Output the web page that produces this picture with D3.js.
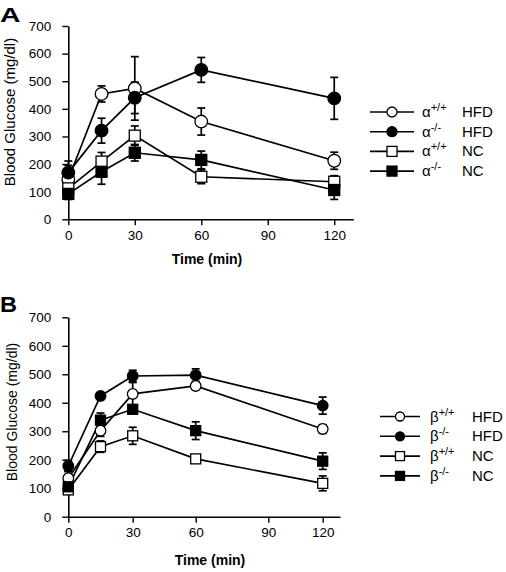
<!DOCTYPE html>
<html>
<head>
<meta charset="utf-8">
<script src="https://cdn.jsdelivr.net/npm/d3@7"></script>
<style>
  html, body { margin: 0; padding: 0; background: #fff; }
  svg { display: block; }
  text { font-family: "Liberation Sans", Arial, sans-serif; fill: #000; }
</style>
</head>
<body>
<svg id="chart" width="506" height="572"></svg>
<script>
// ---------- data ----------
const times = [0, 15, 30, 60, 120];
const xTicks = [0, 30, 60, 90, 120];
const yTicks = [0, 100, 200, 300, 400, 500, 600, 700];

// Panel A (alpha)
const aWtHFD = [145, 454, 474, 354, 212];
const aWtHFDErr = [50, 29, 115, 49, 31];
const aKoHFD = [169, 321, 440, 541, 438];
const aKoHFDErr = [42, 45, 57, 45, 76];
const aWtNC = [112, 209, 303, 154, 136];
const aWtNCErr = [20, 33, 35, 25, 22];
const aKoNC = [92, 172, 241, 215, 106];
const aKoNCErr = [20, 45, 30, 32, 34];

// Panel B (beta)
const bWtHFD = [135, 302, 431, 459, 308];
const bWtHFDErr = [25, 20, 40, 10, 15];
const bKoHFD = [178, 424, 494, 497, 390];
const bKoHFDErr = [20, 10, 20, 22, 30];
const bWtNC = [94, 246, 284, 203, 117];
const bWtNCErr = [15, 20, 30, 8, 26];
const bKoNC = [105, 339, 377, 302, 195];
const bKoNCErr = [15, 25, 15, 31, 29];

const legendA = [
  { g: "α", sup: "+/+", diet: "HFD" },
  { g: "α", sup: "-/-", diet: "HFD" },
  { g: "α", sup: "+/+", diet: "NC" },
  { g: "α", sup: "-/-", diet: "NC" }
];
const legendB = [
  { g: "β", sup: "+/+", diet: "HFD" },
  { g: "β", sup: "-/-", diet: "HFD" },
  { g: "β", sup: "+/+", diet: "NC" },
  { g: "β", sup: "-/-", diet: "NC" }
];
// marker styles per series order: open circle, filled circle, open square, filled square
const markerStyles = [
  { shape: "circle", fill: "#fff" },
  { shape: "circle", fill: "#000" },
  { shape: "square", fill: "#fff" },
  { shape: "square", fill: "#000" }
];

const svg = d3.select("#chart");

function drawPanel(cfg) {
  const g = svg.append("g");
  const x = cfg.x, y = cfg.y;

  // axes
  const xAxis = d3.axisBottom(x).tickValues(xTicks).tickSize(6).tickSizeOuter(0).tickPadding(5);
  const yAxis = d3.axisLeft(y).tickValues(yTicks).tickSize(6).tickSizeOuter(0).tickPadding(11);
  const gx = g.append("g").attr("transform", `translate(0,${y(0)})`).call(xAxis);
  const gy = g.append("g").attr("transform", `translate(${x(0)},0)`).call(yAxis);
  [gx, gy].forEach(a => {
    a.selectAll("path.domain").attr("stroke", "#000").attr("stroke-width", 1.6);
    a.selectAll(".tick line").attr("stroke", "#000").attr("stroke-width", 1.4);
    a.selectAll(".tick text").attr("font-size", 13.5).attr("font-family", "Liberation Sans, Arial, sans-serif").attr("fill", "#000");
  });

  const series = cfg.series;
  const line = d3.line().x((d, i) => x(times[i])).y(d => y(d));

  // lines
  series.forEach(s => {
    g.append("path").attr("d", line(s.values)).attr("fill", "none")
      .attr("stroke", "#000").attr("stroke-width", 1.7);
  });
  // error bars
  series.forEach(s => {
    s.values.forEach((v, i) => {
      const cx = x(times[i]);
      const y1 = y(v + s.err[i]), y2 = y(v - s.err[i]);
      g.append("line").attr("x1", cx).attr("x2", cx).attr("y1", y1).attr("y2", y2)
        .attr("stroke", "#000").attr("stroke-width", 1.7);
      [y1, y2].forEach(yy => g.append("line").attr("x1", cx - 4).attr("x2", cx + 4)
        .attr("y1", yy).attr("y2", yy).attr("stroke", "#000").attr("stroke-width", 1.7));
    });
  });
  // markers (draw order specified)
  cfg.order.forEach(si => {
    const s = series[si];
    const st = markerStyles[si];
    s.values.forEach((v, i) => drawMarker(g, st, x(times[i]), y(v), cfg.r, cfg.sq));
  });

  // axis titles
  g.append("text").attr("transform", `translate(${cfg.yTitleX},${cfg.yTitleY}) rotate(-90)`)
    .attr("text-anchor", "middle").attr("font-size", cfg.yTitleSize).text("Blood Glucose (mg/dl)");
  g.append("text").attr("x", cfg.xTitleX).attr("y", cfg.xTitleY).attr("text-anchor", "middle")
    .attr("font-size", 14).attr("font-weight", "bold").text("Time (min)");

  // panel letter
  g.append("text").attr("transform", `translate(${cfg.letterX},${cfg.letterY}) scale(${cfg.letterSX},1)`)
    .attr("font-size", cfg.letterSize).attr("font-weight", "bold").text(cfg.letter);

  // legend
  cfg.legend.forEach((d, i) => {
    const ly = cfg.legY + i * cfg.legDy;
    g.append("line").attr("x1", cfg.legX1).attr("x2", cfg.legX2).attr("y1", ly).attr("y2", ly)
      .attr("stroke", "#000").attr("stroke-width", 1.6);
    drawMarker(g, markerStyles[i], (cfg.legX1 + cfg.legX2) / 2, ly, cfg.legR, cfg.legSq);
    const t = g.append("text").attr("x", cfg.legTX).attr("y", ly + 5).attr("font-size", 15);
    t.append("tspan").text(d.g);
    t.append("tspan").attr("dy", -6).attr("font-size", 11).text(d.sup);
    g.append("text").attr("x", cfg.legDX).attr("y", ly + 5).attr("font-size", 15).text(d.diet);
  });
}

function drawMarker(g, st, cx, cy, r, sq) {
  if (st.shape === "circle") {
    g.append("circle").attr("cx", cx).attr("cy", cy).attr("r", r)
      .attr("fill", st.fill).attr("stroke", "#000").attr("stroke-width", 1.3);
  } else {
    g.append("rect").attr("x", cx - sq / 2).attr("y", cy - sq / 2).attr("width", sq).attr("height", sq)
      .attr("fill", st.fill).attr("stroke", "#000").attr("stroke-width", 1.3);
  }
}

// Panel A
drawPanel({
  x: d3.scaleLinear().domain([0, 128.6]).range([68.3, 353.3]),
  y: d3.scaleLinear().domain([0, 700]).range([219.3, 26]),
  series: [
    { values: aWtHFD, err: aWtHFDErr },
    { values: aKoHFD, err: aKoHFDErr },
    { values: aWtNC, err: aWtNCErr },
    { values: aKoNC, err: aKoNCErr }
  ],
  order: [0, 2, 3, 1],
  r: 6.3, sq: 11,
  yTitleX: 15, yTitleY: 112, yTitleSize: 15,
  xTitleX: 207, xTitleY: 264,
  letter: "A", letterX: 0, letterY: 22, letterSize: 21, letterSX: 1.35,
  legend: legendA, legY: 112, legDy: 19.7, legX1: 370, legX2: 414, legR: 5, legSq: 10,
  legTX: 422, legDX: 462
});

// Panel B
drawPanel({
  x: d3.scaleLinear().domain([0, 30, 60, 90, 120, 128]).range([68.3, 132.7, 195.7, 268.3, 322.7, 340]),
  y: d3.scaleLinear().domain([0, 700]).range([516.7, 317.3]),
  series: [
    { values: bWtHFD, err: bWtHFDErr },
    { values: bKoHFD, err: bKoHFDErr },
    { values: bWtNC, err: bWtNCErr },
    { values: bKoNC, err: bKoNCErr }
  ],
  order: [0, 2, 3, 1],
  r: 5.3, sq: 10,
  yTitleX: 17, yTitleY: 412, yTitleSize: 14,
  xTitleX: 210, xTitleY: 565,
  letter: "B", letterX: 0, letterY: 312, letterSize: 22, letterSX: 1.07,
  legend: legendB, legY: 416.5, legDy: 19.8, legX1: 380, legX2: 420, legR: 4.5, legSq: 9,
  legTX: 430, legDX: 472
});
</script>
</body>
</html>
